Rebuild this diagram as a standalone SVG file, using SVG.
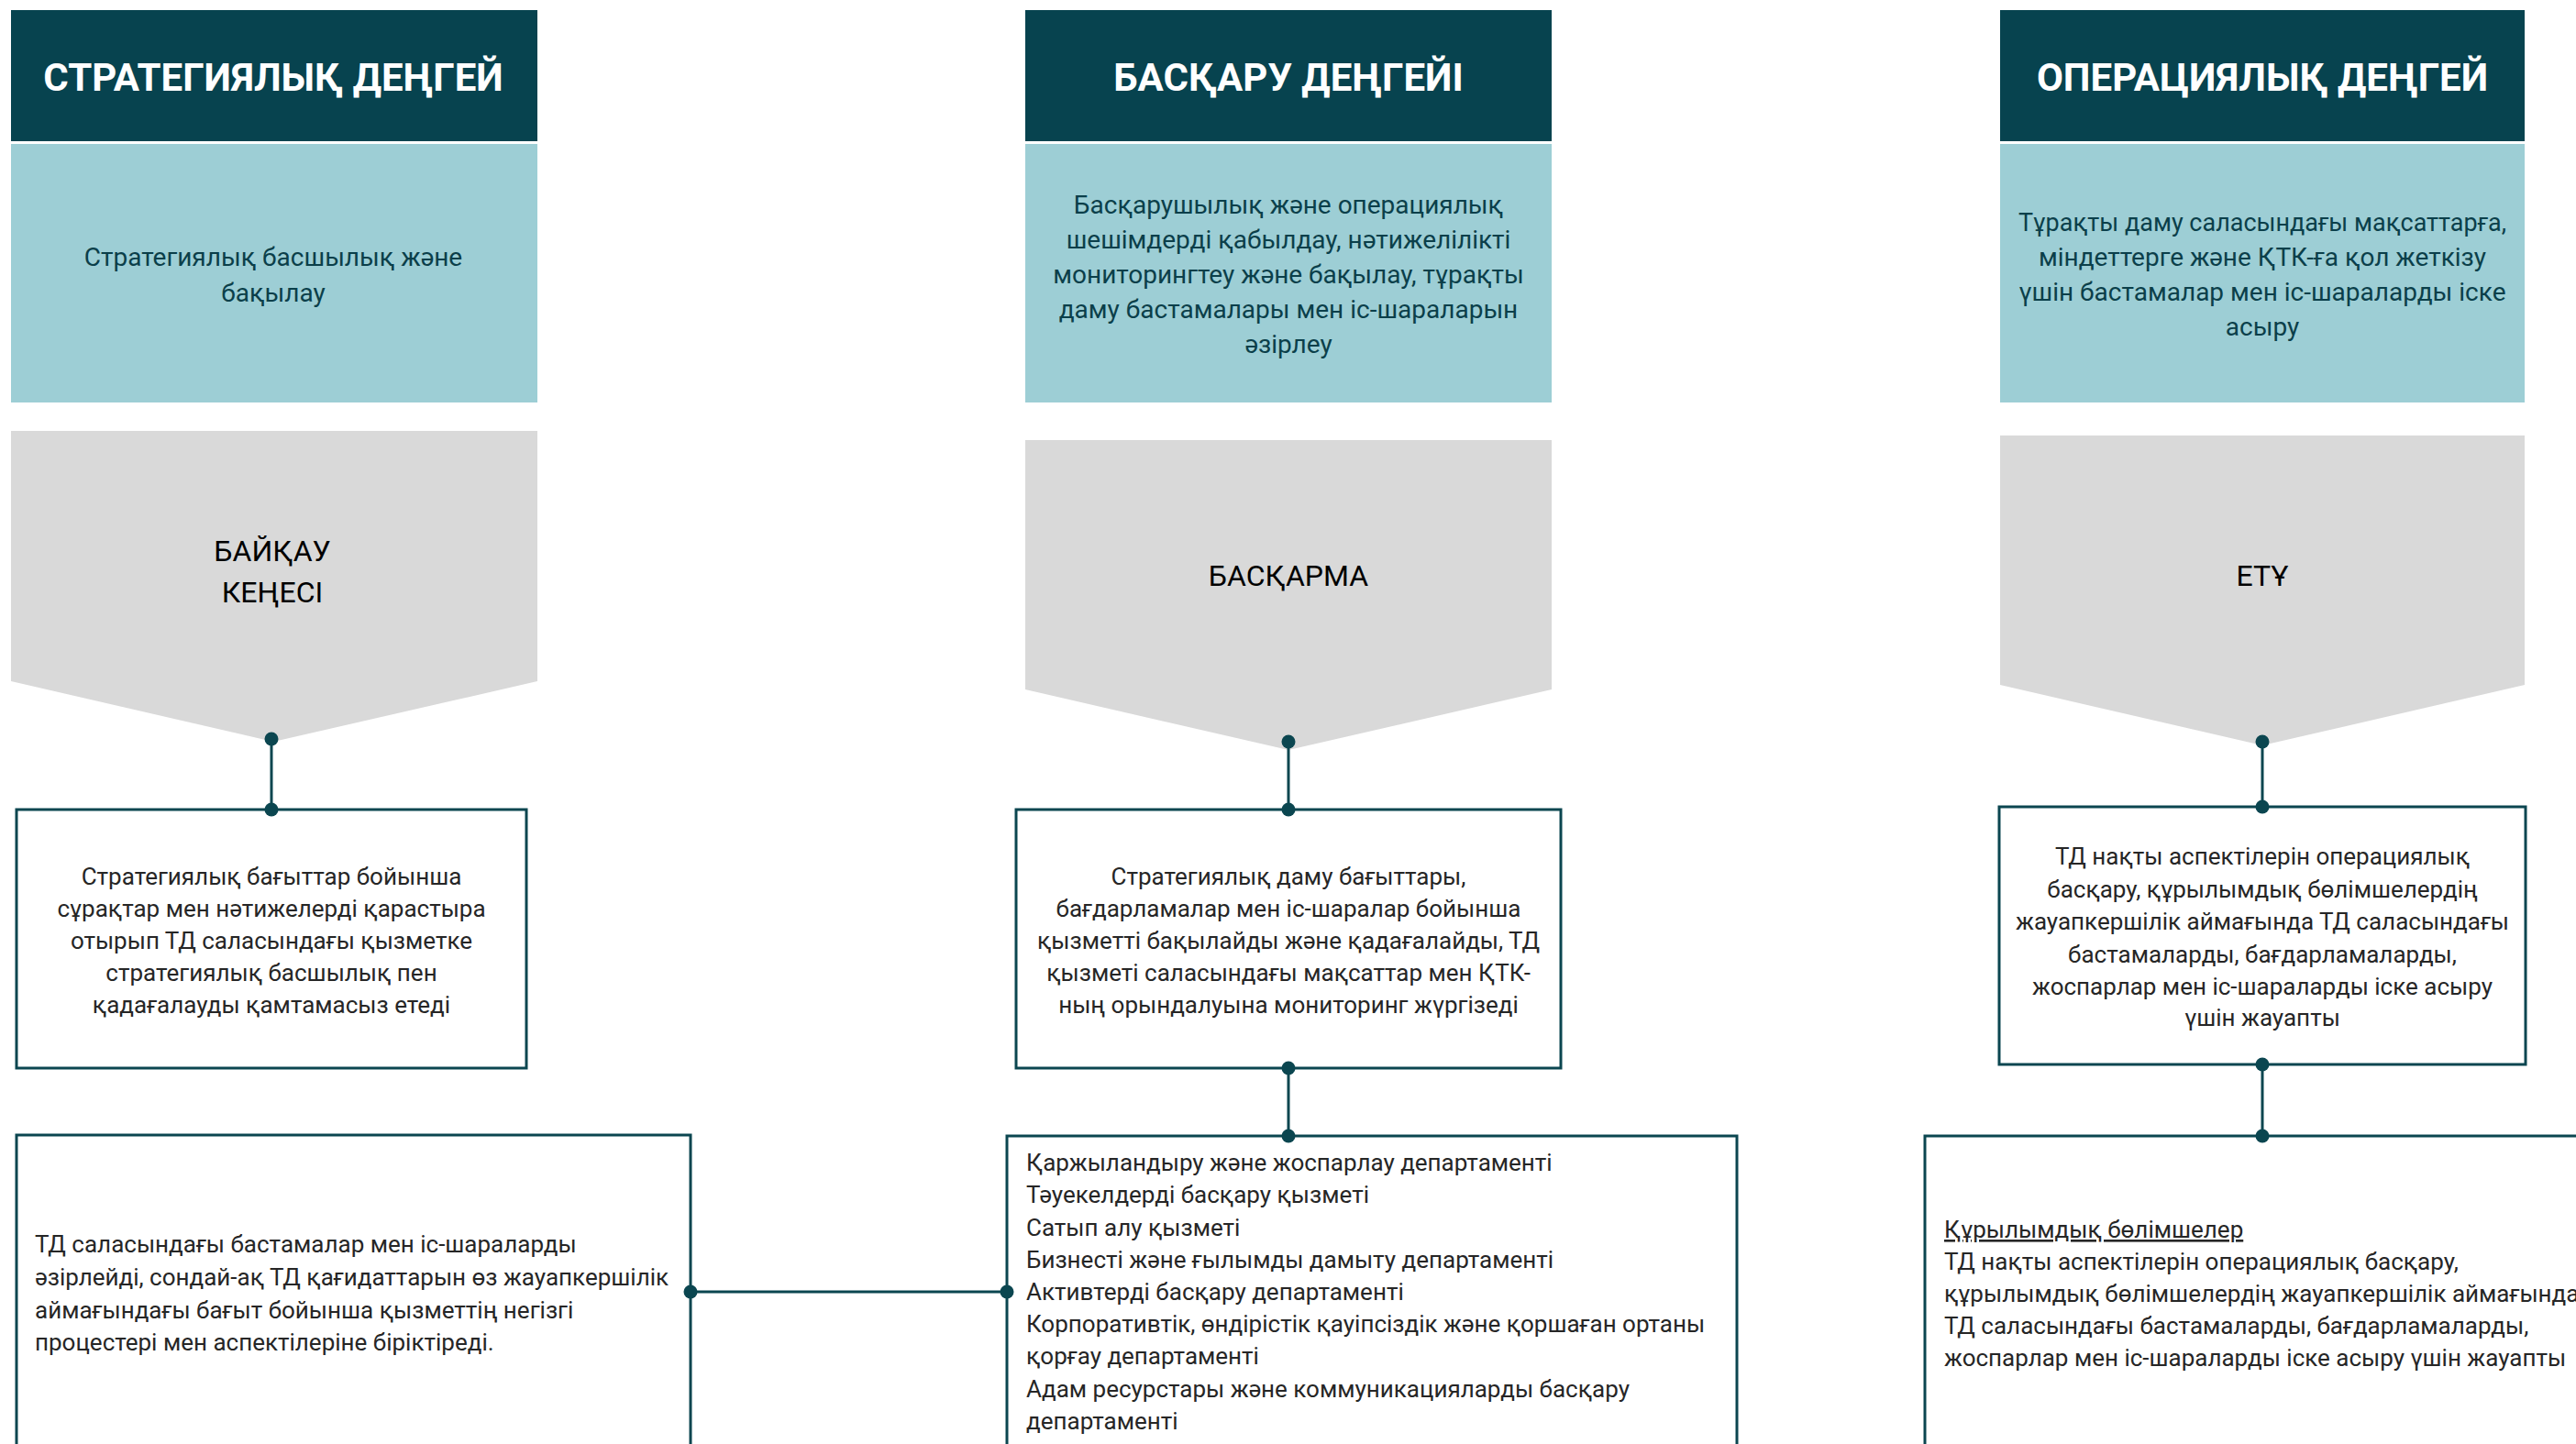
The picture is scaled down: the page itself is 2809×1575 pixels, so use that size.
<svg xmlns="http://www.w3.org/2000/svg" width="2809" height="1575" viewBox="0 0 2809 1575">
<defs>
<style>
.hdr{fill:#07434F}
.hdrt{fill:#FFFFFF;font-family:Roboto,"Noto Sans",sans-serif;font-weight:bold;font-size:42px;text-anchor:middle}
.sub{fill:#9DCED5}
.subt{fill:#0B3F4A;font-family:Roboto,"Noto Sans",sans-serif;font-size:28px;text-anchor:middle}
.chev{fill:#D9D9D9}
.chevt{fill:#000000;font-family:Roboto,"Noto Sans",sans-serif;font-size:32px;text-anchor:middle}
.box{fill:#FFFFFF;stroke:#0B4650;stroke-width:3}
.boxt{fill:#262626;font-family:Roboto,"Noto Sans",sans-serif;font-size:26px}
.c{text-anchor:middle}
.conn{stroke:#0B4650;stroke-width:3;fill:none;marker-start:url(#dot);marker-end:url(#dot)}
</style>
<marker id="dot" viewBox="-8 -8 16 16" markerUnits="userSpaceOnUse" markerWidth="16" markerHeight="16" refX="0" refY="0" orient="auto">
<circle cx="0" cy="0" r="7.5" fill="#0B4650"/>
</marker>
</defs>
<rect width="2809" height="1575" fill="#FFFFFF"/>

<g id="col1-header">
<rect class="hdr" x="12" y="11" width="574" height="143"/>
<text class="hdrt" x="298" y="99">СТРАТЕГИЯЛЫҚ ДЕҢГЕЙ</text>
</g>
<g id="col1-sub">
<rect class="sub" x="12" y="157" width="574" height="282"/>
<text class="subt" x="298" y="290">Стратегиялық басшылық және</text>
<text class="subt" x="298" y="329">бақылау</text>
</g>
<g id="col1-chevron">
<polygon class="chev" points="12,470 586,470 586,743 298,809 12,743"/>
<text class="chevt" x="297" y="612">БАЙҚАУ</text>
<text class="chevt" x="297" y="657">КЕҢЕСІ</text>
</g>
<g id="col1-box">
<rect class="box" x="18" y="883" width="556" height="282"/>
<text class="boxt c" x="296" y="965">Стратегиялық бағыттар бойынша</text>
<text class="boxt c" x="296" y="1000">сұрақтар мен нәтижелерді қарастыра</text>
<text class="boxt c" x="296" y="1035">отырып ТД саласындағы қызметке</text>
<text class="boxt c" x="296" y="1070">стратегиялық басшылық пен</text>
<text class="boxt c" x="296" y="1105">қадағалауды қамтамасыз етеді</text>
</g>
<g id="col1-bottom">
<rect class="box" x="18" y="1238" width="735" height="400"/>
<text class="boxt" x="38" y="1366">ТД саласындағы бастамалар мен іс-шараларды</text>
<text class="boxt" x="38" y="1402">әзірлейді, сондай-ақ ТД қағидаттарын өз жауапкершілік</text>
<text class="boxt" x="38" y="1438">аймағындағы бағыт бойынша қызметтің негізгі</text>
<text class="boxt" x="38" y="1473">процестері мен аспектілеріне біріктіреді.</text>
</g>

<g id="col2-header">
<rect class="hdr" x="1118" y="11" width="574" height="143"/>
<text class="hdrt" x="1405" y="99">БАСҚАРУ ДЕҢГЕЙІ</text>
</g>
<g id="col2-sub">
<rect class="sub" x="1118" y="157" width="574" height="282"/>
<text class="subt" x="1405" y="233">Басқарушылық және операциялық</text>
<text class="subt" x="1405" y="271">шешімдерді қабылдау, нәтижелілікті</text>
<text class="subt" x="1405" y="309">мониторингтеу және бақылау, тұрақты</text>
<text class="subt" x="1405" y="347">даму бастамалары мен іс-шараларын</text>
<text class="subt" x="1405" y="385">әзірлеу</text>
</g>
<g id="col2-chevron">
<polygon class="chev" points="1118,480 1692,480 1692,752 1405,818 1118,752"/>
<text class="chevt" x="1405" y="639">БАСҚАРМА</text>
</g>
<g id="col2-box">
<rect class="box" x="1108" y="883" width="594" height="282"/>
<text class="boxt c" x="1405" y="965">Стратегиялық даму бағыттары,</text>
<text class="boxt c" x="1405" y="1000">бағдарламалар мен іс-шаралар бойынша</text>
<text class="boxt c" x="1405" y="1035">қызметті бақылайды және қадағалайды, ТД</text>
<text class="boxt c" x="1405" y="1070">қызметі саласындағы мақсаттар мен ҚТК-</text>
<text class="boxt c" x="1405" y="1105">ның орындалуына мониторинг жүргізеді</text>
</g>
<g id="col2-bottom">
<rect class="box" x="1098" y="1239" width="796" height="400"/>
<text class="boxt" x="1119" y="1277">Қаржыландыру және жоспарлау департаменті</text>
<text class="boxt" x="1119" y="1312">Тәуекелдерді басқару қызметі</text>
<text class="boxt" x="1119" y="1348">Сатып алу қызметі</text>
<text class="boxt" x="1119" y="1383">Бизнесті және ғылымды дамыту департаменті</text>
<text class="boxt" x="1119" y="1418">Активтерді басқару департаменті</text>
<text class="boxt" x="1119" y="1453">Корпоративтік, өндірістік қауіпсіздік және қоршаған ортаны</text>
<text class="boxt" x="1119" y="1488">қорғау департаменті</text>
<text class="boxt" x="1119" y="1524">Адам ресурстары және коммуникацияларды басқару</text>
<text class="boxt" x="1119" y="1559">департаменті</text>
</g>

<g id="col3-header">
<rect class="hdr" x="2181" y="11" width="572" height="143"/>
<text class="hdrt" x="2467" y="99">ОПЕРАЦИЯЛЫҚ ДЕҢГЕЙ</text>
</g>
<g id="col3-sub">
<rect class="sub" x="2181" y="157" width="572" height="282"/>
<text class="subt" x="2467" y="252" textLength="532" lengthAdjust="spacingAndGlyphs">Тұрақты даму саласындағы мақсаттарға,</text>
<text class="subt" x="2467" y="290">міндеттерге және ҚТК-ға қол жеткізу</text>
<text class="subt" x="2467" y="328">үшін бастамалар мен іс-шараларды іске</text>
<text class="subt" x="2467" y="366">асыру</text>
</g>
<g id="col3-chevron">
<polygon class="chev" points="2181,475 2753,475 2753,747 2467,813 2181,747"/>
<text class="chevt" x="2467" y="639">ЕТҰ</text>
</g>
<g id="col3-box">
<rect class="box" x="2180" y="880" width="574" height="281"/>
<text class="boxt c" x="2467" y="943">ТД нақты аспектілерін операциялық</text>
<text class="boxt c" x="2467" y="979">басқару, құрылымдық бөлімшелердің</text>
<text class="boxt c" x="2467" y="1014">жауапкершілік аймағында ТД саласындағы</text>
<text class="boxt c" x="2467" y="1050">бастамаларды, бағдарламаларды,</text>
<text class="boxt c" x="2467" y="1085">жоспарлар мен іс-шараларды іске асыру</text>
<text class="boxt c" x="2467" y="1119">үшін жауапты</text>
</g>
<g id="col3-bottom">
<rect class="box" x="2099" y="1239" width="800" height="400"/>
<text class="boxt" x="2120" y="1350" text-decoration="underline">Құрылымдық бөлімшелер</text>
<text class="boxt" x="2120" y="1385">ТД нақты аспектілерін операциялық басқару,</text>
<text class="boxt" x="2120" y="1420">құрылымдық бөлімшелердің жауапкершілік аймағында</text>
<text class="boxt" x="2120" y="1455">ТД саласындағы бастамаларды, бағдарламаларды,</text>
<text class="boxt" x="2120" y="1490">жоспарлар мен іс-шараларды іске асыру үшін жауапты</text>
</g>

<g id="connectors">
<line class="conn" x1="296" y1="806" x2="296" y2="883"/>
<line class="conn" x1="1405" y1="809" x2="1405" y2="883"/>
<line class="conn" x1="2467" y1="809" x2="2467" y2="880"/>
<line class="conn" x1="1405" y1="1165" x2="1405" y2="1239"/>
<line class="conn" x1="2467" y1="1161" x2="2467" y2="1239"/>
<line class="conn" x1="753" y1="1409" x2="1098" y2="1409"/>
</g>
</svg>
